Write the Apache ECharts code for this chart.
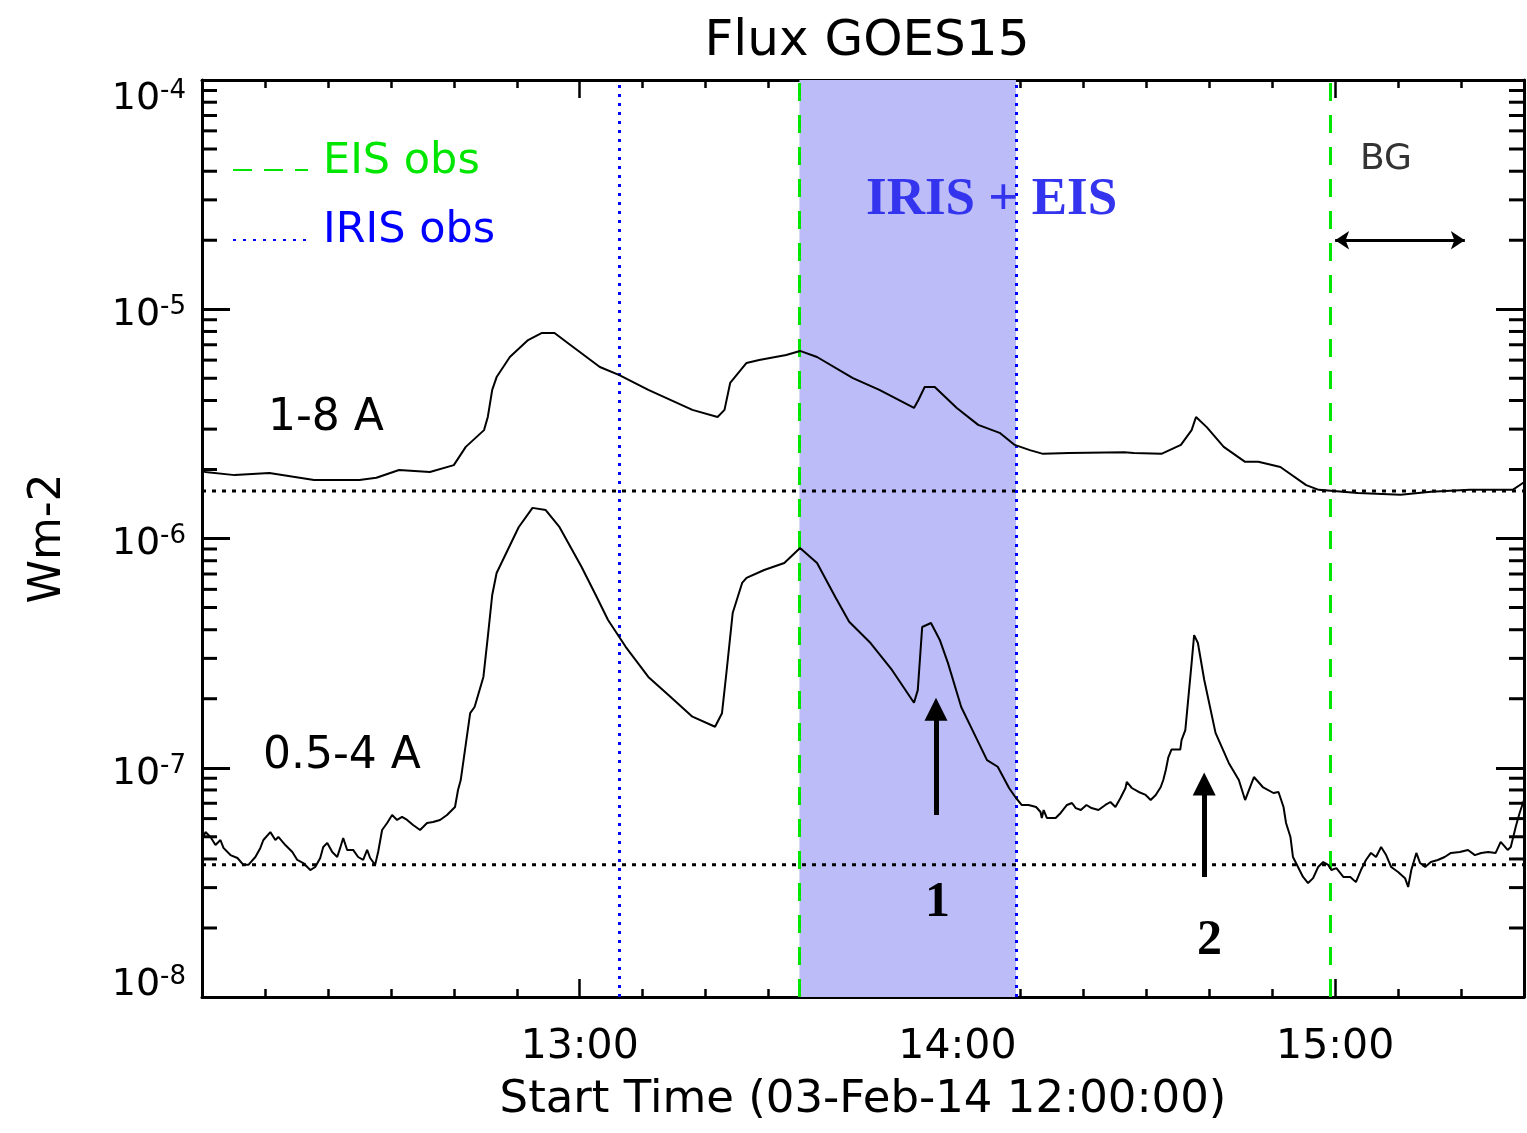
<!DOCTYPE html>
<html><head><meta charset="utf-8">
<script src="https://cdn.jsdelivr.net/npm/echarts@6/dist/echarts.min.js"></script>
<style>html,body{margin:0;padding:0;background:#fff}#c{width:1527px;height:1133px}</style>
</head><body><div id="c"></div>
<script>
// minutes after 12:00:00 UT, 03-Feb-2014; flux in W m^-2
const time18 = [0,0.5,5.2,10.7,17.8,25.0,27.7,31.3,36.2,40.0,41.9,44.8,45.4,46.1,46.8,48.9,51.8,54.0,56.0,58.1,63.2,66.3,70.9,77.9,81.9,83.0,83.9,86.5,88.5,92.8,95.0,97.7,103.4,107.6,113.1,113.8,114.8,116.4,119.9,123.3,126.7,129.1,131.5,133.6,137.7,146.5,148.0,152.4,155.5,157.2,157.9,159.6,162.3,165.7,167.8,171.3,175.4,177.4,183.6,190.4,195.2,201.4,208.2,210];
const flux18 = [2.03e-6,1.95e-6,1.89e-6,1.93e-6,1.80e-6,1.80e-6,1.84e-6,1.99e-6,1.95e-6,2.09e-6,2.51e-6,2.97e-6,3.39e-6,4.45e-6,5.06e-6,6.19e-6,7.34e-6,7.88e-6,7.88e-6,7.13e-6,5.60e-6,5.16e-6,4.45e-6,3.64e-6,3.39e-6,3.64e-6,4.77e-6,5.83e-6,6.01e-6,6.32e-6,6.58e-6,6.19e-6,5.01e-6,4.45e-6,3.71e-6,4.02e-6,4.58e-6,4.58e-6,3.71e-6,3.13e-6,2.89e-6,2.56e-6,2.43e-6,2.34e-6,2.36e-6,2.38e-6,2.36e-6,2.34e-6,2.56e-6,2.97e-6,3.39e-6,3.06e-6,2.51e-6,2.16e-6,2.16e-6,2.05e-6,1.71e-6,1.63e-6,1.58e-6,1.55e-6,1.60e-6,1.63e-6,1.63e-6,1.76e-6];
const time054 = [
0,0.55,1.35,2.14,2.93,3.41,4.52,5.63,6.58,7.37,
8.48,9.27,9.75,10.86,11.65,12.13,13.24,14.35,15.14,16.09,
17.2,17.99,18.78,19.26,19.9,20.69,21.48,21.95,22.43,23.06,
24.01,24.8,25.6,26.23,26.71,27.5,27.98,28.61,29.41,30.2,
30.99,31.78,32.58,33.53,34.64,35.75,36.7,37.81,38.92,40.19,
40.67,41.1,42.6,43.3,44.7,45.4,46.1,46.8,50.3,52.5,
54.6,56.8,60.3,62.7,64.5,67.3,70.9,74.4,77.9,81.5,
82.6,83.3,84.3,85.8,86.5,89.3,92.5,95.0,97.7,100.6,
102.8,106.2,109.6,113.1,113.7,114.4,115.8,117.2,118.5,120.6,
122.6,124.7,126.4,128.2,129.3,130.2,131.3,132.5,133.2,133.4,
133.7,134.2,135.6,136.4,137.4,138.2,138.8,139.6,140.5,141.3,
142.4,143.5,144.3,145.1,145.9,146.7,146.9,147.7,148.8,149.9,
150.7,151.5,152.3,152.7,153.1,153.5,154.0,155.4,155.6,156.2,
157.2,157.6,158.2,159.2,161.0,163.1,164.7,165.7,167.1,168.5,
170.2,171.0,171.8,172.2,172.9,173.3,174.1,174.9,175.7,176.5,
177.3,178.1,178.9,179.4,180.2,181.3,182.4,183.3,184.1,184.9,
185.7,186.5,187.3,188.1,188.9,190.0,191.1,191.6,192.1,192.9,
193.5,194.3,195.2,196.3,197.4,198.4,199.8,201.1,202.2,203.2,
204.3,205.5,206.3,207.4,207.9,208.7,209.3,210];
const flux054 = [
4.84e-8,5.24e-8,4.99e-8,4.60e-8,4.84e-8,4.47e-8,4.16e-8,4.04e-8,3.77e-8,3.77e-8,
4.08e-8,4.47e-8,4.84e-8,5.24e-8,4.84e-8,4.99e-8,4.60e-8,4.29e-8,3.96e-8,3.84e-8,
3.58e-8,3.69e-8,4.04e-8,4.51e-8,4.70e-8,4.29e-8,4.08e-8,4.47e-8,4.94e-8,4.38e-8,
4.38e-8,4.08e-8,3.96e-8,4.38e-8,4.04e-8,3.77e-8,4.29e-8,5.35e-8,5.74e-8,6.22e-8,
5.92e-8,6.10e-8,5.92e-8,5.63e-8,5.35e-8,5.74e-8,5.80e-8,5.92e-8,6.22e-8,6.74e-8,
8.00e-8,8.84e-8,1.73e-7,1.84e-7,2.49e-7,3.72e-7,5.67e-7,7.07e-7,1.12e-6,1.36e-6,
1.33e-6,1.12e-6,7.51e-7,5.56e-7,4.41e-7,3.37e-7,2.49e-7,2.04e-7,1.67e-7,1.51e-7,
1.73e-7,2.59e-7,4.73e-7,6.40e-7,6.73e-7,7.29e-7,7.82e-7,9.09e-7,7.82e-7,5.56e-7,
4.33e-7,3.50e-7,2.67e-7,1.92e-7,2.18e-7,4.11e-7,4.28e-7,3.61e-7,2.86e-7,1.84e-7,
1.42e-7,1.08e-7,1.01e-7,8.16e-8,7.38e-8,6.88e-8,6.88e-8,6.74e-8,6.41e-8,6.04e-8,
6.54e-8,6.04e-8,6.04e-8,6.35e-8,6.88e-8,7.02e-8,6.67e-8,6.54e-8,6.88e-8,6.67e-8,
6.54e-8,6.88e-8,7.09e-8,6.74e-8,7.38e-8,8.16e-8,8.67e-8,8.16e-8,7.84e-8,7.61e-8,
7.23e-8,7.61e-8,8.24e-8,8.84e-8,9.78e-8,1.11e-7,1.20e-7,1.20e-7,1.32e-7,1.46e-7,
2.86e-7,3.79e-7,3.50e-7,2.42e-7,1.42e-7,1.05e-7,8.84e-8,7.23e-8,9.11e-8,8.24e-8,
7.76e-8,7.84e-8,6.74e-8,5.74e-8,4.99e-8,4.08e-8,3.69e-8,3.34e-8,3.14e-8,3.30e-8,
3.69e-8,3.88e-8,3.77e-8,3.58e-8,3.65e-8,3.34e-8,3.34e-8,3.17e-8,3.58e-8,3.96e-8,
4.25e-8,4.08e-8,4.51e-8,4.16e-8,3.69e-8,3.51e-8,3.30e-8,3.02e-8,3.58e-8,4.25e-8,
3.84e-8,3.69e-8,3.88e-8,3.96e-8,4.08e-8,4.25e-8,4.29e-8,4.38e-8,4.16e-8,4.25e-8,
4.29e-8,4.25e-8,4.75e-8,4.38e-8,4.51e-8,5.54e-8,6.35e-8,7.23e-8];
const background18 = 1.61e-6;
const background054 = 3.77e-8;
const irisObs = [66.3, 129.3];   // IRIS observation marks (min after 12:00)
const eisObs = [94.9, 179.2];    // EIS observation marks
const overlap = [94.9, 129.3];   // IRIS + EIS window
const xTickLabels = {60: '13:00', 120: '14:00', 180: '15:00'};
const eventArrows = [
  {t: 116.6, from: 6.22e-8, to: 1.80e-7},
  {t: 159.2, from: 3.34e-8, to: 8.50e-8}
];
const bgArrow = {from: 180.0, to: 200.6, level: 2.0e-5};

const xMin = 0, xMax = 210, xInterval = 60;
const yMin = 1e-8, yMax = 1e-4;

const minorY = [];
for (let e = -8; e < -4; e++) for (let m = 2; m <= 9; m++) minorY.push([0, m * Math.pow(10, e)]);

const FONT = 'DejaVu Sans';
const GREEN = '#00e600';
const BLUE = '#0000ff';

const chart = echarts.init(document.getElementById('c'), null, {renderer: 'canvas'});

const xBase = {
  type: 'value', min: xMin, max: xMax, interval: xInterval,
  splitLine: {show: false},
  axisLine: {show: true, onZero: false, lineStyle: {color: '#000', width: 3}},
  axisTick: {show: true, inside: true, length: 18, lineStyle: {color: '#000', width: 2.5}},
  minorTick: {show: true, splitNumber: 6, length: 8, lineStyle: {color: '#000', width: 2.5}},
  minorSplitLine: {show: false}
};
const yBase = {
  type: 'log', logBase: 10, min: yMin, max: yMax,
  splitLine: {show: false},
  axisLine: {show: true, onZero: false, lineStyle: {color: '#000', width: 3}},
  axisTick: {show: true, inside: true, length: 28, lineStyle: {color: '#000', width: 3}},
  minorTick: {show: false}
};

const option = {
  backgroundColor: '#fff',
  animation: false,
  title: {
    text: 'Flux GOES15', left: 862, top: 12, textAlign: 'center',
    textStyle: {fontFamily: FONT, fontSize: 50, fontWeight: 'normal', color: '#000'}
  },
  grid: {left: 202, right: 0, top: 80, bottom: 136, containLabel: false},
  xAxis: [
    Object.assign({}, xBase, {
      position: 'bottom',
      name: 'Start Time (03-Feb-14 12:00:00)', nameLocation: 'middle', nameGap: 81,
      nameTextStyle: {fontFamily: FONT, fontSize: 45, color: '#000'},
      axisLabel: {show: true, margin: 30, fontFamily: FONT, fontSize: 41, color: '#000',
        formatter: v => xTickLabels[v] || ''}
    }),
    Object.assign({}, xBase, {position: 'top', axisLabel: {show: false}})
  ],
  yAxis: [
    Object.assign({}, yBase, {
      position: 'left',
      name: 'Wm-2', nameLocation: 'middle', nameRotate: 90, nameGap: 131,
      nameTextStyle: {fontFamily: FONT, fontSize: 44, color: '#000'},
      axisLabel: {
        show: true, margin: 16, color: '#000',
        padding: [10, 0, 0, 0],
        formatter: v => {
          const e = Math.round(Math.log10(v));
          const main = '{b|10}{s|-' + Math.abs(e) + '}';
          if (e === -4) return '{gt| }\n' + main;
          if (e === -8) return main + '\n{gb| }';
          return main;
        },
        rich: {
          b: {fontFamily: FONT, fontSize: 38, color: '#000', verticalAlign: 'bottom', lineHeight: 40},
          s: {fontFamily: FONT, fontSize: 26, color: '#000', verticalAlign: 'top', lineHeight: 28, padding: [0, 0, 20, 0]},
          gt: {fontSize: 2, lineHeight: 26},
          gb: {fontSize: 2, lineHeight: 36}
        }
      }
    }),
    Object.assign({}, yBase, {position: 'right', axisLabel: {show: false}})
  ],
  series: [
    {
      name: 'overlap', type: 'line', data: [], z: 1, silent: true,
      markArea: {silent: true, itemStyle: {color: '#bcbcf8', opacity: 1},
        data: [[{xAxis: overlap[0]}, {xAxis: overlap[1]}]]}
    },
    {
      name: 'obs lines', type: 'line', data: [], z: 4, silent: true,
      markLine: {
        silent: true, symbol: ['none', 'none'], label: {show: false}, animation: false,
        data: [
          {xAxis: irisObs[0], lineStyle: {color: BLUE, width: 3, type: [3, 6]}},
          {xAxis: irisObs[1], lineStyle: {color: BLUE, width: 3, type: [3, 6]}},
          {xAxis: eisObs[0], lineStyle: {color: GREEN, width: 3, type: [18, 14]}},
          {xAxis: eisObs[1], lineStyle: {color: GREEN, width: 3, type: [18, 14]}}
        ]
      }
    },
    {
      name: 'background 1-8 A', type: 'line', z: 3, symbol: 'none', silent: true,
      lineStyle: {color: '#000', width: 3, type: [4, 6]},
      data: [[xMin, background18], [xMax, background18]]
    },
    {
      name: 'background 0.5-4 A', type: 'line', z: 3, symbol: 'none', silent: true,
      lineStyle: {color: '#000', width: 3, type: [4, 6]},
      data: [[xMin, background054], [xMax, background054]]
    },
    {
      name: '1-8 A', type: 'line', z: 5, symbol: 'none', smooth: false,
      lineStyle: {color: '#000', width: 2},
      data: time18.map((t, i) => [t, flux18[i]])
    },
    {
      name: '0.5-4 A', type: 'line', z: 5, symbol: 'none', smooth: false,
      lineStyle: {color: '#000', width: 2},
      data: time054.map((t, i) => [t, flux054[i]])
    },
    {
      name: 'minor y ticks', type: 'custom', z: 6, silent: true, clip: false,
      data: minorY,
      renderItem: (params, api) => {
        const v = api.value(1);
        const pL = api.coord([xMin, v]);
        const pR = api.coord([xMax, v]);
        const st = {stroke: '#000', lineWidth: 3};
        return {type: 'group', children: [
          {type: 'line', shape: {x1: pL[0], y1: pL[1], x2: pL[0] + 15, y2: pL[1]}, style: st},
          {type: 'line', shape: {x1: pR[0] - 15, y1: pR[1], x2: pR[0], y2: pR[1]}, style: st}
        ]};
      }
    },
    {
      name: 'event arrows', type: 'lines', coordinateSystem: 'cartesian2d', z: 7, silent: true,
      symbol: ['none', 'triangle'], symbolSize: 23,
      lineStyle: {color: '#000', width: 5, opacity: 1},
      data: eventArrows.map(a => ({coords: [[a.t, a.from], [a.t, a.to]]}))
    },
    {
      name: 'BG arrow', type: 'lines', coordinateSystem: 'cartesian2d', z: 7, silent: true,
      symbol: ['arrow', 'arrow'], symbolSize: 14,
      lineStyle: {color: '#000', width: 3, opacity: 1},
      data: [{coords: [[bgArrow.from, bgArrow.level], [bgArrow.to, bgArrow.level]]}]
    }
  ],
  graphic: [
    {type: 'line', z: 100, shape: {x1: 233, y1: 170, x2: 308, y2: 170}, style: {stroke: GREEN, lineWidth: 2, lineDash: [19, 12]}},
    {type: 'text', z: 100, left: 323, top: 140, style: {text: 'EIS obs', fill: GREEN, font: '43px "DejaVu Sans"'}},
    {type: 'line', z: 100, shape: {x1: 233, y1: 240, x2: 308, y2: 240}, style: {stroke: BLUE, lineWidth: 2, lineDash: [3, 7]}},
    {type: 'text', z: 100, left: 323, top: 209, style: {text: 'IRIS obs', fill: BLUE, font: '43px "DejaVu Sans"'}},
    {type: 'text', z: 100, left: 866, top: 174, style: {text: 'IRIS + EIS', fill: '#3434ee', font: 'bold 53px "Liberation Serif"'}},
    {type: 'text', z: 100, left: 1360, top: 142, style: {text: 'BG', fill: '#333', font: '36px "DejaVu Sans"'}},
    {type: 'text', z: 100, left: 268, top: 397, style: {text: '1-8 A', fill: '#000', font: '44px "DejaVu Sans"'}},
    {type: 'text', z: 100, left: 263, top: 735, style: {text: '0.5-4 A', fill: '#000', font: '44px "DejaVu Sans"'}},
    {type: 'text', z: 100, left: 925, top: 878, style: {text: '1', fill: '#000', font: 'bold 50px "Liberation Serif"'}},
    {type: 'text', z: 100, left: 1197, top: 916, style: {text: '2', fill: '#000', font: 'bold 50px "Liberation Serif"'}}
  ]
};
chart.setOption(option);
</script>
</body></html>
